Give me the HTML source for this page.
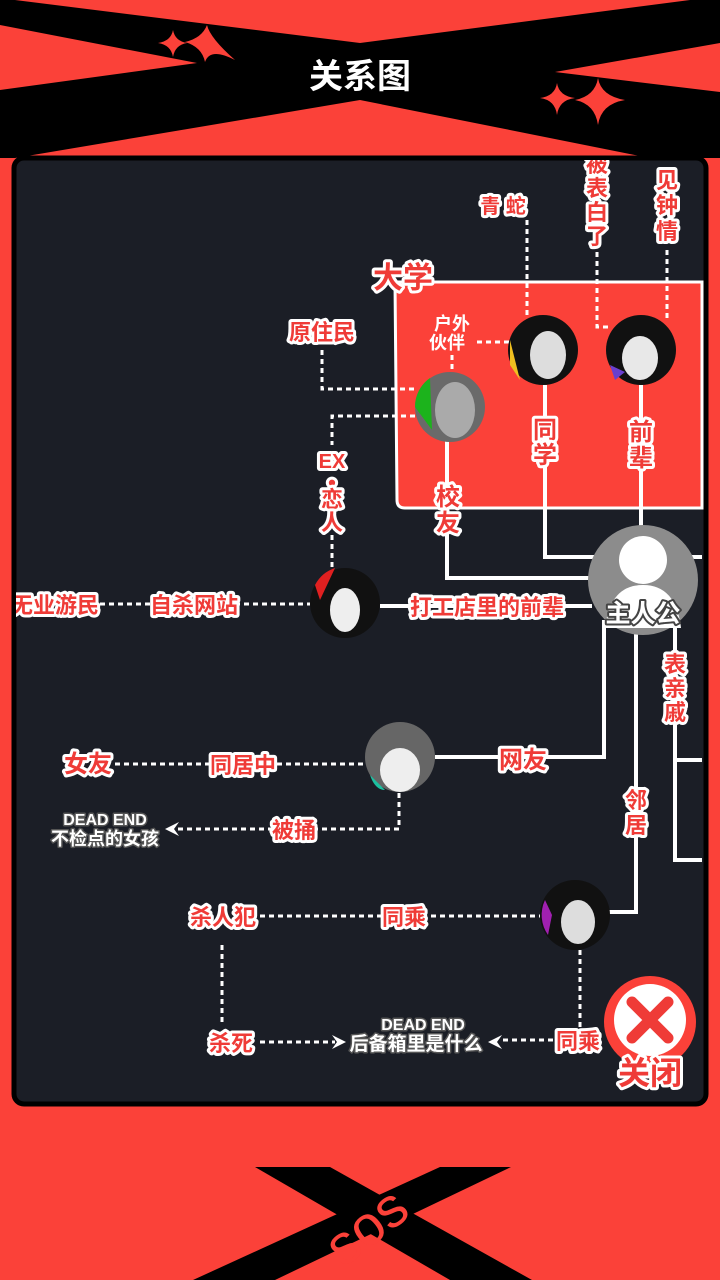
<!DOCTYPE html>
<html><head><meta charset="utf-8"><style>
html,body{margin:0;padding:0;width:720px;height:1280px;overflow:hidden;background:#fb4139}
svg{display:block}
text{font-family:"Liberation Sans","Noto Sans CJK SC",sans-serif;font-weight:bold}
.r{fill:#ef3b37;stroke:#fff;stroke-width:6;paint-order:stroke;stroke-linejoin:round}
.w{fill:#fff;stroke:#555;stroke-width:4;paint-order:stroke;stroke-linejoin:round}
.sl{stroke:#fff;stroke-width:4;fill:none}
.dl{stroke:#fff;stroke-width:3;fill:none;stroke-dasharray:5 4}
</style></head><body>
<svg width="720" height="1280" viewBox="0 0 720 1280" xmlns="http://www.w3.org/2000/svg">
<defs><clipPath id="pc"><rect x="16" y="160" width="688" height="942" rx="9"/></clipPath></defs>
<rect width="720" height="1280" fill="#fb4139"/>
<!-- header -->
<rect x="0" y="0" width="720" height="158" fill="#000"/>
<polygon points="15,0 690,0 360,43" fill="#fb4139"/>
<polygon points="0,25 197,63 0,90" fill="#fb4139"/>
<polygon points="720,43 555,72 720,92" fill="#fb4139"/>
<polygon points="15,158 360,100 650,158" fill="#fb4139"/>
<g fill="#fb4139">
<path d="M173,30 Q175,41 187,43 Q175,45 173,57 Q171,45 158,43 Q171,41 173,30Z"/>
<path d="M207,25 Q210,38 235,60 Q210,47 205,62 Q202,47 185,42 Q202,38 207,25Z"/>
<path d="M557,83 Q559,96 575,98 Q559,100 557,115 Q555,100 540,98 Q555,96 557,83Z"/>
<path d="M598,78 Q601,96 625,100 Q601,104 598,125 Q595,104 575,100 Q595,96 598,78Z"/>
</g>
<text x="360" y="88" font-size="34" fill="#fff" text-anchor="middle">关系图</text>
<!-- panel -->
<rect x="14" y="158" width="692" height="946" rx="10" fill="#1b1e26" stroke="#000" stroke-width="5"/>
<g clip-path="url(#pc)">
<path d="M395,282 H702 V508 H405 Q397,508 397,500 Z" fill="#fb4139" stroke="#fff" stroke-width="3"/>
<text x="373" y="288" font-size="30" class="r">大学</text>
<path class="sl" d="M447,440 V578 H597"/>
<path class="sl" d="M545,385 V557 H600"/>
<path class="sl" d="M641,385 V528"/>
<path class="sl" d="M380,606 H592"/>
<path class="sl" d="M604,620 V757 H435"/>
<path class="sl" d="M636,630 V912 H608"/>
<path class="sl" d="M675,620 V860 H702 M675,760 H702"/>
<path class="sl" d="M690,557 H702"/>
<path class="dl" d="M527,220 V318"/>
<path class="dl" d="M597,252 V327 H612"/>
<path class="dl" d="M667,250 V318"/>
<path class="dl" d="M477,342 H510 M452,355 V375"/>
<path class="dl" d="M322,350 V389 H415"/>
<path class="dl" d="M415,416 H332 V445 M332,535 V568"/>
<path class="dl" d="M100,604 H310"/>
<path class="dl" d="M115,764 H365"/>
<path class="dl" d="M399,793 V829 H175"/>
<path class="dl" d="M260,916 H540"/>
<path class="dl" d="M222,945 V1025"/>
<path class="dl" d="M260,1042 H335"/>
<path class="dl" d="M580,950 V1040 H500"/>
<g fill="#fff">
<path d="M165,829 l14,-7 l-5,7 l5,7z"/>
<path d="M346,1042 l-14,-7 l5,7 l-5,7z"/>
<path d="M488,1042 l14,-7 l-5,7 l5,7z"/>
</g>
<g>
<circle cx="450" cy="407" r="35" fill="#6a6a6a"/><path d="M415,407 A35,35 0 0 1 430,378 L432,430 Z" fill="#1cb31c"/><ellipse cx="455" cy="410" rx="20" ry="28" fill="#aaa"/>
<circle cx="543" cy="350" r="35" fill="#111"/><path d="M510,340 L520,380 L510,365Z" fill="#f0c020"/><ellipse cx="548" cy="355" rx="18" ry="24" fill="#ddd"/>
<circle cx="641" cy="350" r="35" fill="#111"/><path d="M610,365 L625,372 L615,380Z" fill="#6a3fd0"/><ellipse cx="640" cy="358" rx="18" ry="22" fill="#e8e8e8"/>
<circle cx="345" cy="603" r="35" fill="#111"/><path d="M315,585 A35,35 0 0 1 335,568 L320,600Z" fill="#e02020"/><ellipse cx="345" cy="610" rx="15" ry="22" fill="#eee"/>
<circle cx="400" cy="757" r="35" fill="#666"/><ellipse cx="400" cy="770" rx="20" ry="22" fill="#eee"/><path d="M370,775 Q375,790 385,790 L375,780Z" fill="#1cc0a0"/>
<circle cx="575" cy="915" r="35" fill="#111"/><path d="M545,900 A35,35 0 0 0 548,935 L552,915Z" fill="#a020b0"/><ellipse cx="578" cy="922" rx="17" ry="22" fill="#ddd"/>
<circle cx="643" cy="580" r="55" fill="#8c8c8c"/>
<circle cx="643" cy="560" r="24" fill="#fff"/><path d="M605,628 Q610,585 643,585 Q676,585 681,628Z" fill="#fff"/>
</g>
<text x="643" y="622" font-size="25" class="w" text-anchor="middle" style="fill:#fff;stroke:#444">主人公</text>
<g font-size="22" text-anchor="middle">
<text x="503" y="213" class="r" font-size="20">青 蛇</text>
<text x="597" y="172" class="r">被</text><text x="597" y="196" class="r">表</text><text x="597" y="220" class="r">白</text><text x="597" y="244" class="r">了</text>
<text x="667" y="188" class="r">见</text><text x="667" y="213" class="r">钟</text><text x="667" y="239" class="r">情</text>
<text x="452" y="330" style="fill:#fff;font-size:18px">户外</text><text x="447" y="349" style="fill:#fff;font-size:18px">伙伴</text>
<text x="322" y="340" class="r">原住民</text>
<text x="332" y="468" class="r" font-size="20">EX</text><text x="332" y="490" class="r">•</text><text x="332" y="507" class="r">恋</text><text x="332" y="530" class="r">人</text>
<text x="448" y="505" class="r" font-size="24">校</text><text x="448" y="531" class="r" font-size="24">友</text>
<text x="545" y="438" class="r" font-size="24">同</text><text x="545" y="463" class="r" font-size="24">学</text>
<text x="641" y="440" class="r" font-size="24">前</text><text x="641" y="466" class="r" font-size="24">辈</text>
<text x="487" y="615" class="r">打工店里的前辈</text>
<text x="55" y="613" class="r">无业游民</text>
<text x="194" y="613" class="r">自杀网站</text>
<text x="675" y="672" class="r">表</text><text x="675" y="696" class="r">亲</text><text x="675" y="720" class="r">戚</text>
<text x="88" y="772" class="r" font-size="24">女友</text>
<text x="243" y="773" class="r">同居中</text>
<text x="523" y="768" class="r" font-size="24">网友</text>
<text x="636" y="808" class="r">邻</text><text x="636" y="833" class="r">居</text>
<text x="294" y="838" class="r">被捅</text>
<text x="105" y="825" class="w" font-size="16" style="stroke-width:3">DEAD END</text>
<text x="105" y="845" class="w" font-size="18" style="stroke-width:3">不检点的女孩</text>
<text x="223" y="925" class="r">杀人犯</text>
<text x="404" y="925" class="r">同乘</text>
<text x="231" y="1051" class="r">杀死</text>
<text x="423" y="1030" class="w" font-size="16" style="stroke-width:3">DEAD END</text>
<text x="416" y="1050" class="w" font-size="19" style="stroke-width:3">后备箱里是什么</text>
<text x="578" y="1049" class="r">同乘</text>
</g>
</g>
<circle cx="650" cy="1022" r="46" fill="#fb4139"/>
<circle cx="650" cy="1020" r="36" fill="#fff"/>
<path d="M632,1002 L668,1038 M668,1002 L632,1038" stroke="#ef3b37" stroke-width="11" stroke-linecap="round"/>
<text x="650" y="1084" font-size="32" text-anchor="middle" class="r">关闭</text>
<polygon points="255,1167 330,1167 532,1280 450,1280" fill="#000"/>
<polygon points="440,1167 511,1167 275,1280 193,1280" fill="#000"/>
<text x="0" y="0" font-size="56" fill="#fb4139" text-anchor="middle" dominant-baseline="central" transform="translate(366,1226) rotate(-38)" style="font-weight:normal">sos</text>
</svg>
</body></html>
